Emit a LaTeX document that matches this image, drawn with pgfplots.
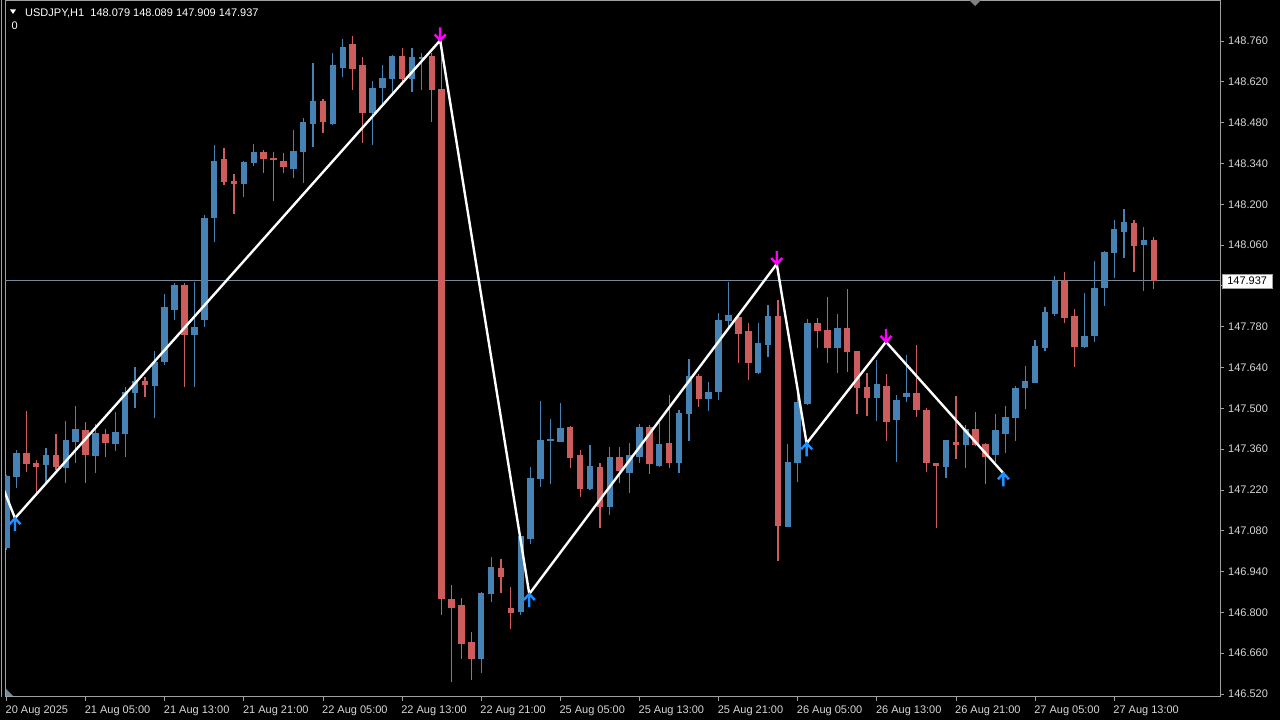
\documentclass[border=0pt]{standalone}
\usepackage{pgfplots}
\pgfplotsset{compat=1.18}
\usepackage{pgfplotstable}
\usepackage{fontspec}
\setmainfont{Liberation Sans}

\definecolor{bull}{RGB}{70,130,180}
\definecolor{bear}{RGB}{205,92,92}
\definecolor{peakcol}{RGB}{255,0,255}
\definecolor{lowcol}{RGB}{30,144,255}
\definecolor{framecol}{RGB}{160,160,160}
\definecolor{labcol}{RGB}{215,215,215}
\definecolor{pricecol}{RGB}{119,136,153}

% USDJPY H1 candles: bar index, open, high, low, close
\pgfplotstableread{
i o h l c
0 147.021 147.271 147.014 147.268
1 147.264 147.357 147.227 147.347
2 147.347 147.491 147.282 147.312
3 147.312 147.323 147.210 147.299
4 147.306 147.364 147.244 147.340
5 147.340 147.412 147.288 147.299
6 147.295 147.456 147.244 147.391
7 147.384 147.508 147.312 147.429
8 147.426 147.453 147.244 147.340
9 147.336 147.446 147.278 147.415
10 147.412 147.429 147.333 147.381
11 147.378 147.487 147.354 147.419
12 147.412 147.573 147.333 147.556
13 147.553 147.642 147.501 147.594
14 147.594 147.607 147.539 147.580
15 147.577 147.697 147.467 147.662
16 147.659 147.892 147.649 147.848
17 147.837 147.930 147.803 147.926
18 147.923 147.930 147.573 147.751
19 147.751 147.933 147.573 147.779
20 147.803 148.163 147.779 148.156
21 148.153 148.403 148.071 148.348
22 148.355 148.393 148.266 148.276
23 148.280 148.304 148.167 148.269
24 148.269 148.348 148.225 148.345
25 148.341 148.407 148.331 148.379
26 148.379 148.386 148.307 148.355
27 148.359 148.379 148.211 148.352
28 148.348 148.376 148.307 148.328
29 148.324 148.455 148.290 148.383
30 148.379 148.496 148.273 148.482
31 148.475 148.685 148.396 148.554
32 148.554 148.561 148.444 148.482
33 148.475 148.719 148.472 148.678
34 148.667 148.767 148.636 148.739
35 148.750 148.777 148.592 148.664
36 148.678 148.705 148.410 148.513
37 148.513 148.623 148.403 148.599
38 148.599 148.678 148.534 148.633
39 148.630 148.712 148.585 148.709
40 148.709 148.736 148.619 148.630
41 148.630 148.736 148.585 148.705
42 148.702 148.719 148.592 148.705
43 148.709 148.719 148.482 148.592
44 148.595 148.762 146.791 146.846
45 146.849 146.894 146.561 146.818
46 146.829 146.849 146.640 146.695
47 146.698 146.733 146.568 146.640
48 146.640 146.870 146.592 146.866
49 146.863 146.993 146.836 146.956
50 146.952 146.983 146.866 146.921
51 146.815 146.887 146.746 146.798
52 146.801 147.065 146.791 147.062
53 147.052 147.299 147.035 147.261
54 147.258 147.525 147.230 147.391
55 147.388 147.463 147.240 147.395
56 147.388 147.518 147.384 147.436
57 147.436 147.439 147.295 147.330
58 147.340 147.357 147.196 147.223
59 147.223 147.374 147.220 147.302
60 147.299 147.312 147.089 147.161
61 147.161 147.367 147.134 147.333
62 147.333 147.367 147.244 147.285
63 147.278 147.381 147.210 147.340
64 147.333 147.446 147.312 147.436
65 147.436 147.443 147.275 147.309
66 147.302 147.450 147.299 147.378
67 147.381 147.546 147.295 147.312
68 147.312 147.494 147.278 147.484
69 147.480 147.669 147.388 147.611
70 147.611 147.618 147.504 147.532
71 147.532 147.590 147.491 147.556
72 147.556 147.827 147.529 147.803
73 147.800 147.933 147.779 147.820
74 147.813 147.820 147.655 147.758
75 147.765 147.793 147.597 147.655
76 147.621 147.793 147.618 147.724
77 147.717 147.854 147.676 147.817
78 147.817 147.872 146.976 147.096
79 147.096 147.378 147.093 147.319
80 147.312 147.549 147.247 147.522
81 147.515 147.806 147.511 147.793
82 147.793 147.810 147.707 147.765
83 147.769 147.885 147.659 147.707
84 147.707 147.823 147.621 147.776
85 147.776 147.909 147.625 147.693
86 147.697 147.700 147.484 147.570
87 147.573 147.621 147.474 147.535
88 147.535 147.666 147.456 147.583
89 147.577 147.618 147.388 147.453
90 147.460 147.546 147.316 147.529
91 147.539 147.683 147.522 147.553
92 147.553 147.717 147.470 147.494
93 147.494 147.501 147.282 147.312
94 147.312 147.312 147.089 147.302
95 147.299 147.391 147.261 147.391
96 147.384 147.542 147.326 147.374
97 147.374 147.443 147.295 147.429
98 147.429 147.487 147.371 147.374
99 147.378 147.381 147.240 147.333
100 147.343 147.480 147.316 147.426
101 147.415 147.508 147.347 147.470
102 147.467 147.577 147.388 147.570
103 147.570 147.645 147.498 147.594
104 147.587 147.734 147.587 147.714
105 147.710 147.848 147.697 147.834
106 147.827 147.954 147.817 147.937
107 147.937 147.971 147.793 147.810
108 147.817 147.841 147.642 147.710
109 147.710 147.895 147.707 147.748
110 147.748 148.005 147.727 147.913
111 147.913 148.040 147.851 148.036
112 148.033 148.146 147.947 148.115
113 148.105 148.184 148.016 148.139
114 148.136 148.146 147.968 148.057
115 148.062 148.122 147.902 148.079
116 148.079 148.089 147.909 147.937
}\candles

% zigzag swing points
\pgfplotstableread{
x p
-0.5 147.240
0.86 147.123
43.85 148.762
52.86 146.863
77.88 147.995
80.9 147.380
88.93 147.728
100.8 147.277
}\zigzag

\pgfdeclareplotmark{dnarr}{%
  \pgfpathmoveto{\pgfpoint{0pt}{0pt}}\pgfpathlineto{\pgfpoint{0pt}{13pt}}%
  \pgfpathmoveto{\pgfpoint{-5.5pt}{6pt}}\pgfpathlineto{\pgfpoint{0pt}{0pt}}\pgfpathlineto{\pgfpoint{5.5pt}{6pt}}%
  \pgfusepathqstroke}
\pgfdeclareplotmark{uparr}{%
  \pgfpathmoveto{\pgfpoint{0pt}{0pt}}\pgfpathlineto{\pgfpoint{0pt}{-13pt}}%
  \pgfpathmoveto{\pgfpoint{-5.5pt}{-6pt}}\pgfpathlineto{\pgfpoint{0pt}{0pt}}\pgfpathlineto{\pgfpoint{5.5pt}{-6pt}}%
  \pgfusepathqstroke}

\pgfplotsset{
  candle/.style n args={2}{draw=none, mark=none, forget plot,
    error bars/.cd, y dir=both, y explicit, error mark=none,
    error bar style={draw=#1, line width=#2}},
  bullonly/.style={restrict expr to domain={\thisrow{c}-\thisrow{o}}{0:10}},
  bearonly/.style={restrict expr to domain={\thisrow{c}-\thisrow{o}}{-10:-0.0000001}},
}

\begin{document}
\begin{tikzpicture}
\fill[black] (0,0) rectangle (1280pt,720pt);
\useasboundingbox (0,0) rectangle (1280pt,720pt);
\draw[framecol, line width=1pt] (1.5pt,720pt) -- (1.5pt,23pt);
\begin{axis}[
  at={(5pt,23pt)}, anchor=south west,
  width=1215pt, height=696pt, scale only axis,
  xmin=-0.152, xmax=122.7, ymin=146.5097, ymax=148.8972,
  axis line style={framecol, line width=1pt},
  xtick pos=bottom, ytick pos=right, yticklabel pos=right,
  tick align=outside, major tick length=4pt,
  tick style={framecol, line width=0.8pt},
  xtick={0,8,...,112},
  xticklabels={20 Aug 2025, 21 Aug 05:00, 21 Aug 13:00, 21 Aug 21:00, 22 Aug 05:00, 22 Aug 13:00, 22 Aug 21:00, 25 Aug 05:00, 25 Aug 13:00, 25 Aug 21:00, 26 Aug 05:00, 26 Aug 13:00, 26 Aug 21:00, 27 Aug 05:00, 27 Aug 13:00},
  ytick={146.52,146.66,146.80,146.94,147.08,147.22,147.36,147.50,147.64,147.78,147.92,148.06,148.20,148.34,148.48,148.62,148.76},
  ticklabel style={font=\fontsize{11}{13}\selectfont, text=labcol},
  xticklabel style={anchor=north west, inner sep=0pt, xshift=-1pt, yshift=-5pt},
  yticklabel style={anchor=west, inner sep=0pt, xshift=4pt,
    /pgf/number format/.cd, fixed, fixed zerofill, precision=3, assume math mode=true},
]
  % price line
  \addplot[pricecol, line width=1pt] coordinates {(-1,147.937) (125,147.937)};
  % wicks
  \addplot[bullonly, candle={bull}{1.2pt}]
    table[x=i, y expr={(\thisrow{h}+\thisrow{l})/2}, y error expr={(\thisrow{h}-\thisrow{l})/2}] {\candles};
  \addplot[bearonly, candle={bear}{1.2pt}]
    table[x=i, y expr={(\thisrow{h}+\thisrow{l})/2}, y error expr={(\thisrow{h}-\thisrow{l})/2}] {\candles};
  % bodies
  \addplot[bullonly, candle={bull}{6.5pt}]
    table[x=i, y expr={(\thisrow{o}+\thisrow{c})/2}, y error expr={max(abs(\thisrow{c}-\thisrow{o})/2,0.0018)}] {\candles};
  \addplot[bearonly, candle={bear}{6.5pt}]
    table[x=i, y expr={(\thisrow{o}+\thisrow{c})/2}, y error expr={max(abs(\thisrow{c}-\thisrow{o})/2,0.0018)}] {\candles};
  % zigzag
  \addplot[white, line width=2.4pt, line join=round] table[x=x, y=p] {\zigzag};
  \addplot[only marks, mark=dnarr, peakcol, line width=2.4pt] coordinates {(43.85,148.762) (77.88,147.995) (88.93,147.728)};
  \addplot[only marks, mark=uparr, lowcol, line width=2.4pt] coordinates {(0.86,147.123) (52.86,146.863) (80.9,147.380) (100.8,147.277)};
\end{axis}
% header
\fill[white] (10pt,710.5pt) -- (16pt,710.5pt) -- (13pt,706pt) -- cycle;
\node[anchor=base west, inner sep=0pt, text=white, font=\fontsize{11}{13}\selectfont] at (25pt,703.5pt) {USDJPY,H1\ \ 148.079 148.089 147.909 147.937};
\node[anchor=base west, inner sep=0pt, text=white, font=\fontsize{11}{13}\selectfont] at (11.5pt,690pt) {0};
% markers
\fill[framecol!80!black] (969pt,720pt) -- (981pt,720pt) -- (975pt,714pt) -- cycle;
\fill[pricecol] (6pt,24pt) -- (6pt,31pt) -- (13pt,24pt) -- cycle;
% current price box
\draw[fill=white, draw=framecol] (1222.5pt,432pt) rectangle (1272pt,446pt);
\node[text=black, inner sep=0pt, font=\fontsize{11}{13}\selectfont] at (1247.2pt,439pt) {147.937};
\end{tikzpicture}
\end{document}
